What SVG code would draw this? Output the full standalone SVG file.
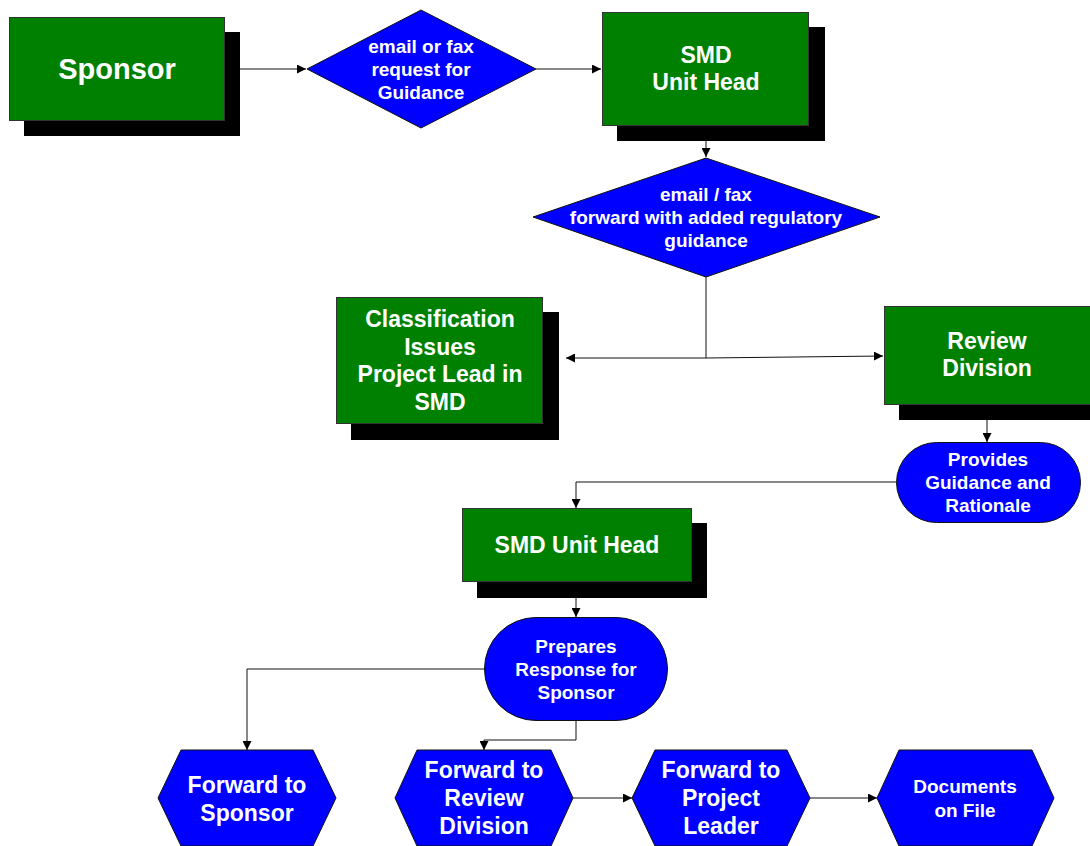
<svg xmlns="http://www.w3.org/2000/svg" width="1090" height="846" viewBox="0 0 1090 846">
<style>
.g{fill:#008000;stroke:#333;stroke-width:1}
.sh{fill:#000}
.b{fill:#0000FF;stroke:#111;stroke-width:1}
.t{fill:#fff;font-family:"Liberation Sans",Arial,sans-serif;font-weight:bold;text-anchor:middle}
.s19{font-size:19px}
.s23{font-size:23px}
.s28{font-size:29px}
.c{fill:none;stroke:#111;stroke-width:1}
</style>
<defs>
<marker id="ah" markerUnits="userSpaceOnUse" markerWidth="9" markerHeight="9" refX="9" refY="4.5" orient="auto">
<path d="M0,0 L9,4.5 L0,9 z" fill="#000"/>
</marker>
</defs>
<rect width="1090" height="846" fill="#fff"/>

<g id="connectors">
<path class="c" d="M225,69 H306" marker-end="url(#ah)"/>
<path class="c" d="M536,69 H601" marker-end="url(#ah)"/>
<path class="c" d="M706,141 V157" marker-end="url(#ah)"/>
<path class="c" d="M706,277 V358"/>
<path class="c" d="M706,358 H566" marker-end="url(#ah)"/>
<path class="c" d="M706,358 L883,356" marker-end="url(#ah)"/>
<path class="c" d="M987,420 V442" marker-end="url(#ah)"/>
<path class="c" d="M896,482 H576 V508" marker-end="url(#ah)"/>
<path class="c" d="M576,598 V617" marker-end="url(#ah)"/>
<path class="c" d="M484,669 H247 V750" marker-end="url(#ah)"/>
<path class="c" d="M576,721 V740 H484 V750" marker-end="url(#ah)"/>
<path class="c" d="M573,798 H632" marker-end="url(#ah)"/>
<path class="c" d="M810,798 H877" marker-end="url(#ah)"/>
</g>

<g id="sponsor">
<rect class="sh" x="24" y="32" width="216" height="104"/>
<rect class="g" x="9.5" y="17.5" width="215" height="103"/>
<text class="t s28" x="117" y="79">Sponsor</text>
</g>

<g id="request">
<polygon class="b" points="307,69 421,10 536,69 421,128"/>
<text class="t s19" x="421" y="53">email or fax</text>
<text class="t s19" x="421" y="76">request for</text>
<text class="t s19" x="421" y="99">Guidance</text>
</g>

<g id="smd1">
<rect class="sh" x="617" y="27" width="208" height="114"/>
<rect class="g" x="602.5" y="12.5" width="206" height="113"/>
<text class="t s23" x="706" y="63">SMD</text>
<text class="t s23" x="706" y="90">Unit Head</text>
</g>

<g id="forward-guidance">
<polygon class="b" points="533,217 706,158 880,217 706,277"/>
<text class="t s19" x="706" y="201">email / fax</text>
<text class="t s19" x="706" y="224">forward with added regulatory</text>
<text class="t s19" x="706" y="247">guidance</text>
</g>

<g id="classification">
<rect class="sh" x="351" y="312" width="208" height="128"/>
<rect class="g" x="336.5" y="297.5" width="206" height="126"/>
<text class="t s23" x="440" y="327">Classification</text>
<text class="t s23" x="440" y="355">Issues</text>
<text class="t s23" x="440" y="382">Project Lead in</text>
<text class="t s23" x="440" y="410">SMD</text>
</g>

<g id="review">
<rect class="sh" x="899" y="321" width="206" height="99"/>
<rect class="g" x="884.5" y="306.5" width="206" height="98"/>
<text class="t s23" x="987" y="349">Review</text>
<text class="t s23" x="987" y="376">Division</text>
</g>

<g id="provides">
<rect class="b" x="896.5" y="442.5" width="184" height="80" rx="40" ry="40"/>
<text class="t s19" x="988" y="466">Provides</text>
<text class="t s19" x="988" y="489">Guidance and</text>
<text class="t s19" x="988" y="512">Rationale</text>
</g>

<g id="smd2">
<rect class="sh" x="477" y="523" width="230" height="75"/>
<rect class="g" x="462.5" y="508.5" width="229" height="73"/>
<text class="t s23" x="577" y="553">SMD Unit Head</text>
</g>

<g id="prepares">
<rect class="b" x="484.5" y="617.5" width="183" height="103" rx="51.5" ry="51.5"/>
<text class="t s19" x="576" y="653">Prepares</text>
<text class="t s19" x="576" y="676">Response for</text>
<text class="t s19" x="576" y="699">Sponsor</text>
</g>

<g id="fwd-sponsor">
<polygon class="b" points="158,798 181,750 313,750 336,798 313,846 181,846"/>
<text class="t s23" x="247" y="793">Forward to</text>
<text class="t s23" x="247" y="821">Sponsor</text>
</g>

<g id="fwd-review">
<polygon class="b" points="395,798 417,750 551,750 573,798 551,846 417,846"/>
<text class="t s23" x="484" y="778">Forward to</text>
<text class="t s23" x="484" y="806">Review</text>
<text class="t s23" x="484" y="834">Division</text>
</g>

<g id="fwd-leader">
<polygon class="b" points="632,798 655,750 787,750 810,798 787,846 655,846"/>
<text class="t s23" x="721" y="778">Forward to</text>
<text class="t s23" x="721" y="806">Project</text>
<text class="t s23" x="721" y="834">Leader</text>
</g>

<g id="documents">
<polygon class="b" points="877,798 899,750 1032,750 1054,798 1032,846 899,846"/>
<text class="t s19" x="965" y="793">Documents</text>
<text class="t s19" x="965" y="817">on File</text>
</g>
</svg>
